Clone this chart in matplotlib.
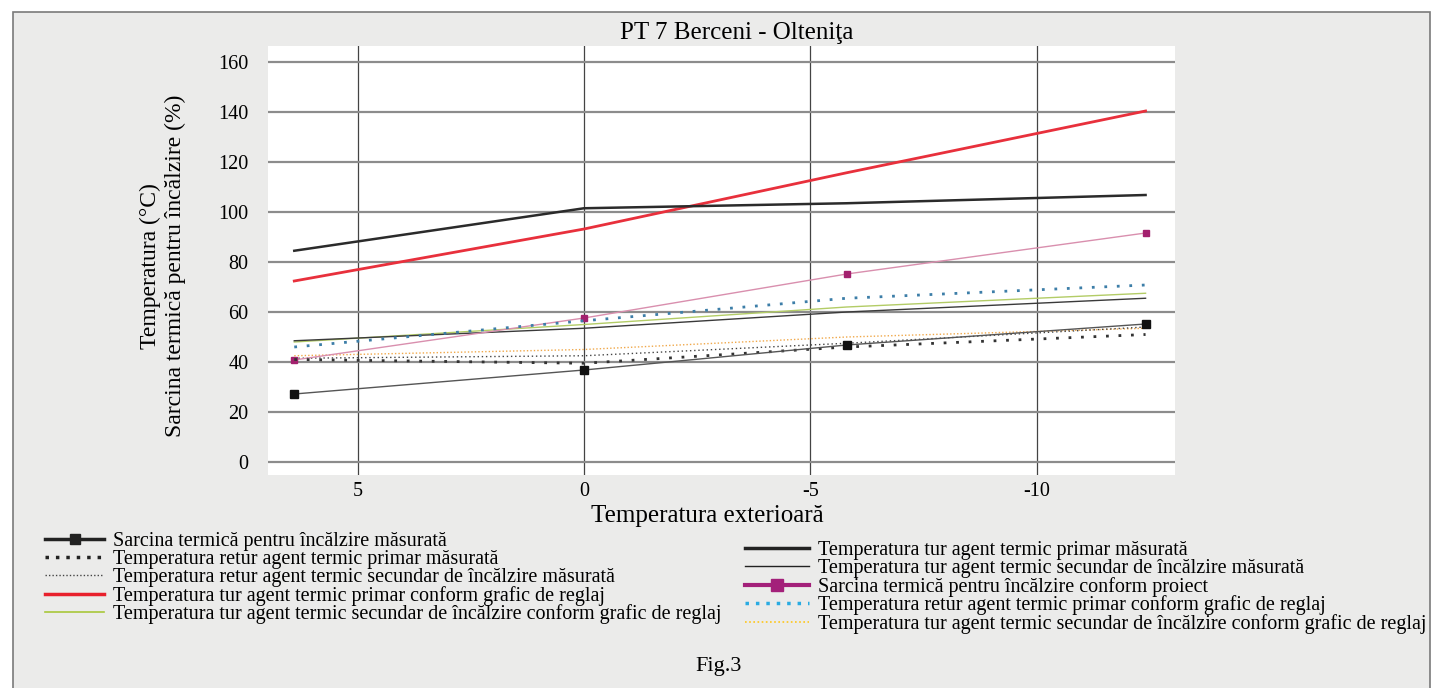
import matplotlib.pyplot as plt
from matplotlib.lines import Line2D
from matplotlib.patches import Rectangle

plt.rcParams['font.family'] = ['Liberation Serif', 'DejaVu Serif']
plt.rcParams['axes.unicode_minus'] = False

# outside temperature at the four measurement points
t_ext = [6.4, 0.0, -5.8, -12.4]

sarcina_masurata = [27.2, 36.8, 46.8, 55.2]
retur_primar_masurat = [41.0, 39.5, 46.0, 51.0]
retur_secundar_masurat = [41.5, 42.5, 47.5, 54.0]
tur_primar_grafic = [72.4, 93.2, 115.7, 140.4]
tur_secundar_grafic = [48.0, 55.0, 62.0, 67.5]
tur_primar_masurat = [84.5, 101.5, 103.5, 106.8]
tur_secundar_masurat = [48.5, 53.5, 60.0, 65.5]
sarcina_proiect = [40.8, 57.6, 75.2, 91.6]
retur_primar_grafic = [46.0, 56.5, 65.5, 70.8]
tur_secundar_grafic_2 = [42.5, 45.0, 50.0, 53.5]

x_ticks = [5, 0, -5, -10]
y_ticks = [0, 20, 40, 60, 80, 100, 120, 140, 160]

labels_left = [
    'Sarcina termică pentru încălzire măsurată',
    'Temperatura retur agent termic primar măsurată',
    'Temperatura retur agent termic secundar de încălzire măsurată',
    'Temperatura tur agent termic primar conform grafic de reglaj',
    'Temperatura tur agent termic secundar de încălzire conform grafic de reglaj',
]
labels_right = [
    'Temperatura tur agent termic primar măsurată',
    'Temperatura tur agent termic secundar de încălzire măsurată',
    'Sarcina termică pentru încălzire conform proiect',
    'Temperatura retur agent termic primar conform grafic de reglaj',
    'Temperatura tur agent termic secundar de încălzire conform grafic de reglaj',
]

W, H = 1437, 688
fig = plt.figure(figsize=(W / 100, H / 100), dpi=100, facecolor='white')

# grey panel with border
panel = Rectangle((13 / W, -0.05), (1430 - 13) / W, (H - 12) / H + 0.05,
                  transform=fig.transFigure, facecolor='#ebebea',
                  edgecolor='#7a7a7a', lw=1.2, zorder=0)
fig.add_artist(panel)

ax = fig.add_axes([268 / W, 1 - 475 / H, (1175 - 268) / W, (475 - 46) / H])
ax.set_facecolor('white')
for s in ax.spines.values():
    s.set_visible(False)

ax.plot(t_ext, tur_primar_grafic, color='#e8303c', lw=2.0, zorder=5)
ax.plot(t_ext, tur_primar_masurat, color='#2b2b2b', lw=1.8, zorder=5)
ax.plot(t_ext, sarcina_proiect, color='#d98fae', lw=1.0, marker='s', ms=5,
        mfc='#a3206e', mec='#a3206e', zorder=5)
ax.plot(t_ext, retur_primar_grafic, color='#3d7ea8', lw=2.0, dashes=(1, 3.5), zorder=5)
ax.plot(t_ext, tur_secundar_grafic, color='#b3cc66', lw=1.0, zorder=4)
ax.plot(t_ext, tur_secundar_masurat, color='#3a3a3a', lw=1.0, zorder=4)
ax.plot(t_ext, tur_secundar_grafic_2, color='#f0a84a', lw=1.0, dashes=(1, 1.5), zorder=4)
ax.plot(t_ext, retur_secundar_masurat, color='#444444', lw=1.0, dashes=(1, 2), zorder=4)
ax.plot(t_ext, retur_primar_masurat, color='#333333', lw=2.0, dashes=(1, 3.5), zorder=5)
ax.plot(t_ext, sarcina_masurata, color='#555555', lw=1.0, marker='s', ms=6,
        mfc='#111111', mec='#111111', zorder=6)

ax.set_xlim(6.98, -13.05)
ax.set_ylim(-5.2, 166.4)
ax.set_xticks(x_ticks)
ax.set_yticks(y_ticks)
ax.yaxis.grid(True, color='#8c8c8c', lw=1.6)
ax.xaxis.grid(True, color='#444444', lw=0.9)
ax.set_axisbelow(True)
ax.tick_params(length=0, labelsize=14.5)
ax.tick_params(axis='y', pad=14)
ax.tick_params(axis='x', pad=5)

fig.text(737 / W, 1 - 33 / H, 'PT 7 Berceni - Olteniţa', ha='center', va='center', fontsize=18)
fig.text(150 / W, 1 - 266 / H, 'Temperatura (°C)', rotation=90, ha='center', va='center', fontsize=17)
fig.text(175 / W, 1 - 266 / H, 'Sarcina termică pentru încălzire (%)', rotation=90,
         ha='center', va='center', fontsize=17)
fig.text(707 / W, 1 - 516 / H, 'Temperatura exterioară', ha='center', va='center', fontsize=18)
fig.text(719 / W, 1 - 667 / H, 'Fig.3', ha='center', va='center', fontsize=16)

handles_left = [
    Line2D([], [], color='#222222', lw=2.5, marker='s', ms=7, mfc='#222222', mec='#222222'),
    Line2D([], [], color='#222222', lw=2.5, dashes=(1, 2)),
    Line2D([], [], color='#444444', lw=1.0, dashes=(1, 1.5)),
    Line2D([], [], color='#e8202c', lw=2.5),
    Line2D([], [], color='#a8c83a', lw=1.2),
]
handles_right = [
    Line2D([], [], color='#222222', lw=2.5),
    Line2D([], [], color='#222222', lw=1.0),
    Line2D([], [], color='#a3207a', lw=3, marker='s', ms=8, mfc='#a3207a', mec='#a3207a'),
    Line2D([], [], color='#29abe2', lw=2.5, dashes=(1, 2)),
    Line2D([], [], color='#ffc61a', lw=1.2, dashes=(1, 1.5)),
]
leg_kw = dict(frameon=False, fontsize=14.5, borderpad=0, borderaxespad=0,
              handletextpad=0.42, labelspacing=-0.06, loc='upper left')
fig.legend(handles_left, labels_left, bbox_to_anchor=(45 / W, 1 - 532 / H),
           handlelength=2.95, **leg_kw)
fig.legend(handles_right, labels_right, bbox_to_anchor=(745 / W, 1 - 541 / H),
           handlelength=3.2, **leg_kw)

fig.savefig('out.png', dpi=100, facecolor='white')
